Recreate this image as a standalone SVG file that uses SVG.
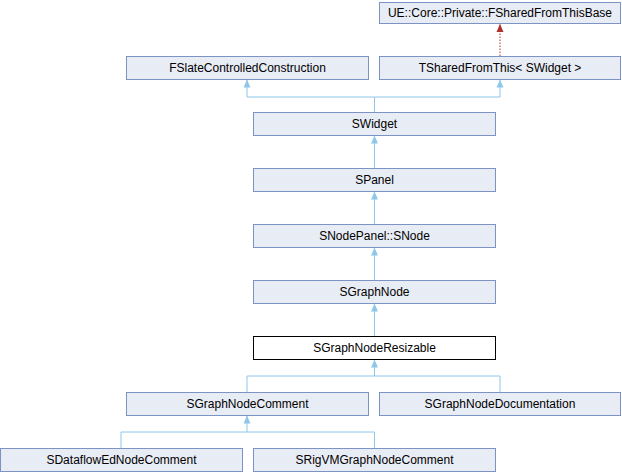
<svg xmlns="http://www.w3.org/2000/svg" width="622" height="472" viewBox="0 0 622 472">
<defs>
<style>
.n rect{fill:#e8ecf5;stroke:#7b93c5;stroke-width:1}
.n.h rect{fill:#ffffff;stroke:#000000}
text{font-family:"Liberation Sans",Arial,sans-serif;font-size:12px;fill:#000;text-anchor:middle}
.e{fill:none;stroke:#8fc6ea;stroke-width:1}
.d{fill:none;stroke:#b03030;stroke-width:1;stroke-dasharray:1.5,1.5}
</style>
<marker id="a" viewBox="0 0 8 8" refX="8" refY="4" markerWidth="8" markerHeight="8" orient="auto" markerUnits="userSpaceOnUse">
<path d="M0,0.5 L8,4 L0,7.5 z" fill="#8fc6ea"/>
</marker>
<marker id="r" viewBox="0 0 8 8" refX="8" refY="4" markerWidth="8" markerHeight="8" orient="auto" markerUnits="userSpaceOnUse">
<path d="M0,0.5 L8,4 L0,7.5 z" fill="#b03030"/>
</marker>
</defs>
<g id="connectors">
<path class="d" d="M500,56 V24" marker-end="url(#r)"/>
<path class="e" d="M374.5,112 V97 H247 V79.5" marker-end="url(#a)"/>
<path class="e" d="M374.5,97 H500 V79.5" marker-end="url(#a)"/>
<path class="e" d="M374.5,168 V135.5" marker-end="url(#a)"/>
<path class="e" d="M374.5,224 V191.5" marker-end="url(#a)"/>
<path class="e" d="M374.5,280 V247.5" marker-end="url(#a)"/>
<path class="e" d="M374.5,336 V303.5" marker-end="url(#a)"/>
<path class="e" d="M247,392 V376 H374.5 V359.5" marker-end="url(#a)"/>
<path class="e" d="M500,392 V376 H374.5"/>
<path class="e" d="M121,448 V432 H247 V415.5" marker-end="url(#a)"/>
<path class="e" d="M374.5,448 V432 H247"/>
</g>
<g id="n0" class="n"><rect x="379.5" y="2.5" width="241" height="21"/><text x="500" y="17">UE::Core::Private::FSharedFromThisBase</text></g>
<g id="n1" class="n"><rect x="126.5" y="56.5" width="242" height="23"/><text x="247.5" y="72">FSlateControlledConstruction</text></g>
<g id="n2" class="n"><rect x="379.5" y="56.5" width="241" height="23"/><text x="500" y="72">TSharedFromThis&lt; SWidget &gt;</text></g>
<g id="n3" class="n"><rect x="253.5" y="112.5" width="242" height="23"/><text x="374.5" y="128">SWidget</text></g>
<g id="n4" class="n"><rect x="253.5" y="168.5" width="242" height="23"/><text x="374.5" y="184">SPanel</text></g>
<g id="n5" class="n"><rect x="253.5" y="224.5" width="242" height="23"/><text x="374.5" y="240">SNodePanel::SNode</text></g>
<g id="n6" class="n"><rect x="253.5" y="280.5" width="242" height="23"/><text x="374.5" y="296">SGraphNode</text></g>
<g id="n7" class="n h"><rect x="253.5" y="336.5" width="242" height="23"/><text x="374.5" y="352">SGraphNodeResizable</text></g>
<g id="n8" class="n"><rect x="126.5" y="392.5" width="242" height="23"/><text x="247.5" y="408">SGraphNodeComment</text></g>
<g id="n9" class="n"><rect x="379.5" y="392.5" width="241" height="23"/><text x="500" y="408">SGraphNodeDocumentation</text></g>
<g id="n10" class="n"><rect x="0.5" y="448.5" width="242" height="23"/><text x="121.5" y="464">SDataflowEdNodeComment</text></g>
<g id="n11" class="n"><rect x="253.5" y="448.5" width="242" height="23"/><text x="374.5" y="464">SRigVMGraphNodeComment</text></g>
</svg>
